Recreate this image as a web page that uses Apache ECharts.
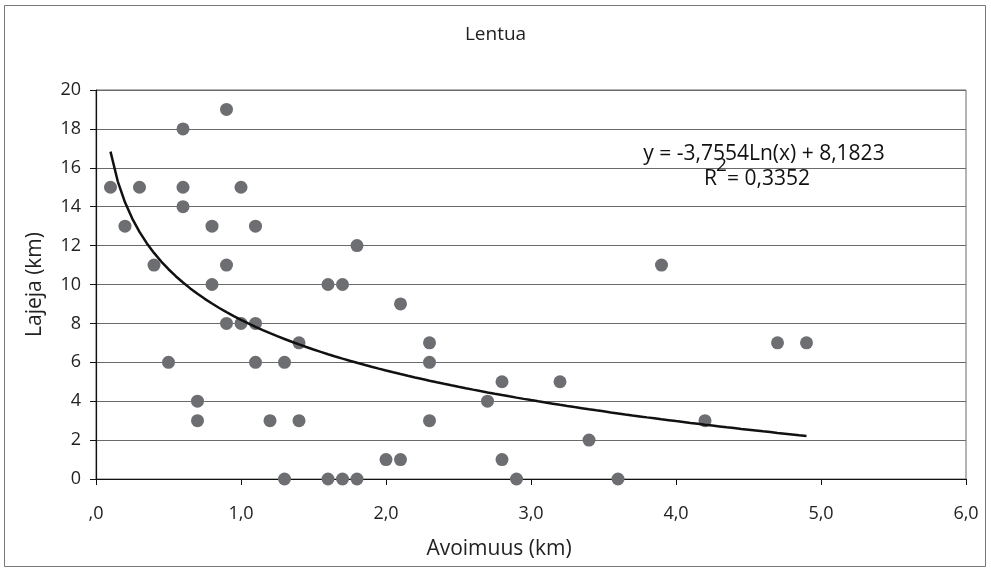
<!DOCTYPE html>
<html>
<head>
<meta charset="utf-8">
<script src="https://cdn.jsdelivr.net/npm/echarts@6/dist/echarts.min.js"></script>
<style>html,body{margin:0;padding:0;background:#fff}#c{width:991px;height:572px}</style>
</head>
<body>
<div id="c"></div>
<script>
const avoimuus = [0.1,0.2,0.3,0.4,0.6,0.6,0.6,0.8,0.8,0.9,0.9,1.0,1.1,1.8,1.6,1.7,
  0.9,1.0,1.1,1.4,0.5,1.1,1.3,0.7,0.7,1.2,1.4,1.3,1.6,1.7,1.8,2.0,
  2.1,2.3,2.3,2.8,3.2,2.7,2.3,3.4,2.1,2.8,2.9,3.6,
  3.9,4.7,4.9,4.2];
const lajeja = [15,13,15,11,18,15,14,13,10,19,11,15,13,12,10,10,
  8,8,8,7,6,6,6,4,3,3,3,0,0,0,0,1,
  9,7,6,5,5,4,3,2,1,1,0,0,
  11,7,7,3];
const xTicks = [0,1,2,3,4,5,6];
const yTicks = [0,2,4,6,8,10,12,14,16,18,20];
const trendCoef = [-3.7554, 8.1823]; // y = a*Ln(x) + b, as printed on the chart
const trendRange = [0.1, 4.9];
const equationText = 'y = -3,7554Ln(x) + 8,1823';
const r2Text = '= 0,3352';
const xName = 'Avoimuus (km)';

const pts = avoimuus.map((x,i)=>[x, lajeja[i]]);
const trend = [];
for (let k=0;k<=96;k++){
  const x = trendRange[0] + (trendRange[1]-trendRange[0])*k/96;
  trend.push([x, trendCoef[0]*Math.log(x)+trendCoef[1]]);
}
const FONT = '"Open Sans"';
const chart = echarts.init(document.getElementById('c'));
chart.setOption({
  animation:false,
  backgroundColor:'#fff',
  textStyle:{fontFamily:FONT},
  title:{text:'Lentua', left:'center', top:20, textStyle:{fontFamily:FONT,fontSize:19,fontWeight:'normal',color:'#222'}},
  grid:{left:96,right:25,top:90,bottom:93,show:true,borderColor:'#6a6a6a',borderWidth:1},
  xAxis:{type:'value',min:0,max:6,interval:1,
    axisLine:{lineStyle:{color:'#111',width:1.2}},
    axisTick:{show:true,length:6,lineStyle:{color:'#111'}},
    axisLabel:{fontFamily:FONT,fontSize:18,color:'#222',margin:26,
      formatter:v=> v===0 ? ',0' : v.toFixed(1).replace('.',',')},
    splitLine:{show:false}},
  yAxis:{type:'value',min:0,max:20,interval:2,
    name:'Lajeja (km)',nameLocation:'middle',nameGap:50,nameRotate:90,
    nameTextStyle:{fontFamily:FONT,fontSize:21,color:'#222'},
    axisLine:{show:true,lineStyle:{color:'#111',width:1.2}},
    axisTick:{show:true,length:6,lineStyle:{color:'#111'}},
    axisLabel:{fontFamily:FONT,fontSize:18,color:'#222',margin:15},
    splitLine:{show:true,lineStyle:{color:'#6a6a6a',width:1}}},
  series:[
    {type:'scatter',data:pts,symbol:'circle',symbolSize:13,itemStyle:{color:'#6d6e71',opacity:1},z:3},
    {type:'line',data:trend,showSymbol:false,smooth:false,lineStyle:{color:'#111',width:2.5},z:4}
  ],
  graphic:[
    {type:'rect',shape:{x:4.5,y:5.5,width:981,height:561},style:{fill:'none',stroke:'#777',lineWidth:1},silent:true},
    {type:'text',x:499,y:549,z:10,style:{text:xName,font:'21px '+FONT,fill:'#222',align:'center',verticalAlign:'middle'}},
    {type:'text',x:764,y:154,z:10,style:{text:equationText,font:'21px '+FONT,fill:'#111',align:'center',verticalAlign:'middle'}},
    {type:'text',x:704,y:179,z:10,style:{text:'R',font:'21px '+FONT,fill:'#111',align:'left',verticalAlign:'middle'}},
    {type:'text',x:716,y:166,z:10,style:{text:'2',font:'19px '+FONT,fill:'#111',align:'left',verticalAlign:'middle'}},
    {type:'text',x:727,y:179,z:10,style:{text:r2Text,font:'21px '+FONT,fill:'#111',align:'left',verticalAlign:'middle'}}
  ]
});
</script>
</body>
</html>
